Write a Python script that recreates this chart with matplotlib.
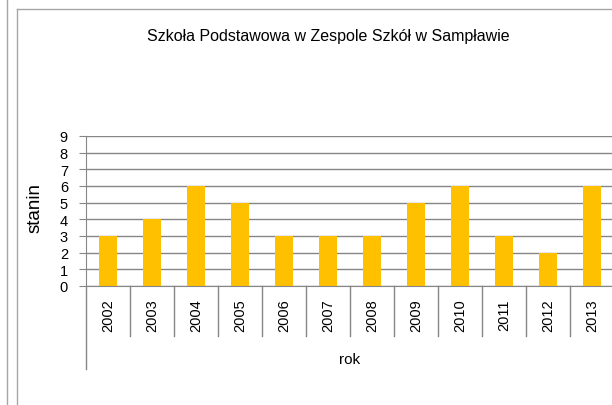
import matplotlib
matplotlib.use("Agg")
import matplotlib.pyplot as plt
from matplotlib.lines import Line2D
import numpy as np

years = ["2002", "2003", "2004", "2005", "2006", "2007",
         "2008", "2009", "2010", "2011", "2012", "2013"]
stanin = [3, 4, 6, 5, 3, 3, 3, 5, 6, 3, 2, 6]
title = "Szkoła Podstawowa w Zespole Szkół w Sampławie"

plt.rcParams['font.family'] = ['Liberation Sans', 'DejaVu Sans']

W, H = 612, 406
fig = plt.figure(figsize=(W / 100, H / 100), dpi=100)

# plot area in pixels: y axis at x=86, zero at y=287, 9 at y=137
ax = fig.add_axes([86 / W, 1 - 287 / H, 528 / W, 150 / H])
x = np.arange(len(years))
ax.bar(x, stanin, width=0.4, color="#FFC000", zorder=3)
ax.set_xlim(-0.5, len(years) - 0.5)
ax.set_ylim(0, 9)
ax.set_yticks(range(10))
ax.tick_params(axis="y", length=5, color="#868686", labelsize=10.5, pad=8)
ax.set_xticks([])
ax.yaxis.grid(True, color="#868686", linewidth=1)
for s in ["top", "right"]:
    ax.spines[s].set_visible(False)
ax.spines["left"].set_color("#868686")
ax.spines["bottom"].set_color("#868686")
ax.spines["bottom"].set_zorder(4)

# category separators and labels below axis
trans = ax.get_xaxis_transform()
for i in range(len(years) + 1):
    low = -0.553 if i == 0 else -0.333
    ax.plot([i - 0.5, i - 0.5], [0, low], transform=trans, color="#868686",
            linewidth=1, clip_on=False)
for i, yr in enumerate(years):
    ax.text(i, -0.085, yr, transform=trans, rotation=90, ha="center", va="top",
            fontsize=10.5)

fig.text(350 / W, 1 - 360 / H, "rok", ha="center", va="center", fontsize=11)
fig.text(35 / W, 1 - 208 / H, "stanin", ha="center", va="center",
         rotation=90, fontsize=13.5)
fig.text(328 / W, 1 - 36 / H, title, ha="center", va="center", fontsize=11.5)

# frame lines of the sheet / chart area
g = "#a6a6a6"
fig.add_artist(Line2D([6.5 / W, 6.5 / W], [0, 1], color=g, linewidth=1))
fig.add_artist(Line2D([16.5 / W, 16.5 / W], [0, 1 - 10 / H], color=g, linewidth=1))
fig.add_artist(Line2D([16.5 / W, 1], [1 - 10 / H, 1 - 10 / H], color=g, linewidth=1))

fig.savefig("out.png", dpi=100)
